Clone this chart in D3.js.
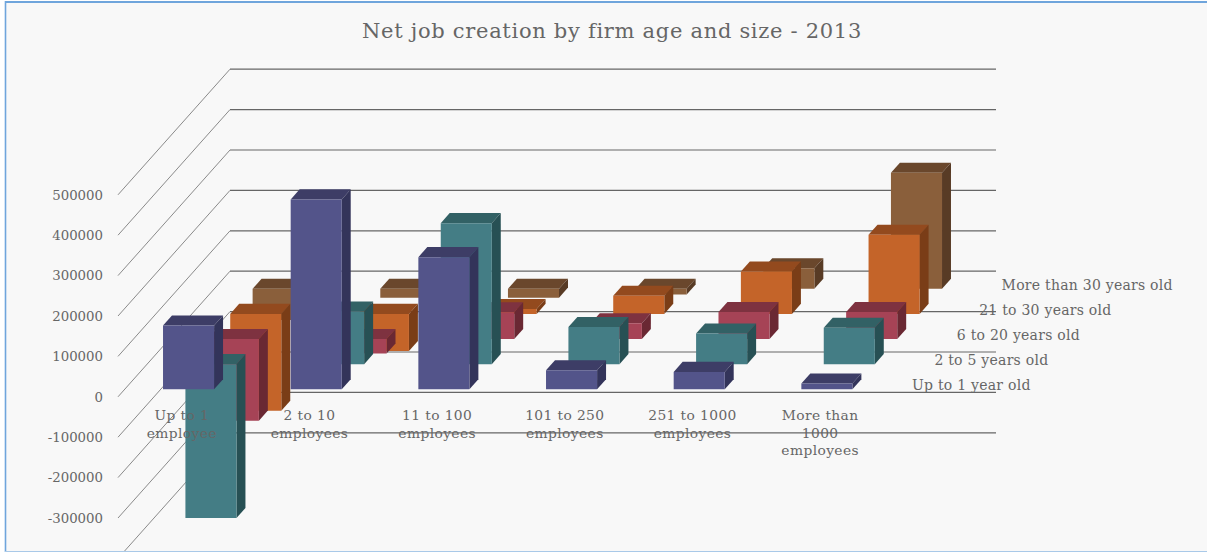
<!DOCTYPE html>
<html>
<head>
<meta charset="utf-8">
<script src="https://cdn.jsdelivr.net/npm/d3@7/dist/d3.min.js"></script>
<style>
html,body{margin:0;padding:0;background:#fff;overflow:hidden}
svg{display:block}
text{font-family:"DejaVu Serif",serif;fill:#666}
</style>
</head>
<body>
<svg id="c" width="1207" height="552"></svg>
<script>
const title = "Net job creation by firm age and size - 2013";
const categories = [
  ["Up to 1","employee"],
  ["2 to 10","employees"],
  ["11 to 100","employees"],
  ["101 to 250","employees"],
  ["251 to 1000","employees"],
  ["More than","1000","employees"]
];
const seriesNames = ["Up to 1 year old","2 to 5 years old","6 to 20 years old","21 to 30 years old","More than 30 years old"];
const upTo1 = [158000, 470000, 327000, 47000, 43000, 14000];
const from2to5 = [-381000, 130000, 349000, 92000, 76000, 90000];
const from6to20 = [-202000, -36000, 66000, 39000, 67000, 67000];
const from21to30 = [-240000, -92000, 12000, 45000, 105000, 196000];
const over30 = [-77000, -22000, -22000, -14000, 51000, 287000];
const seriesValues = [upTo1, from2to5, from6to20, from21to30, over30];
const valueTicks = [-300000,-200000,-100000,0,100000,200000,300000,400000,500000];
const gridTicks = [-400000].concat(valueTicks);
const palette = [
  {front:"#53548a",top:"#3d3d66",side:"#33345a"},
  {front:"#447d85",top:"#326165",side:"#275054"},
  {front:"#a64356",top:"#7e3240",side:"#6a2833"},
  {front:"#c46429",top:"#934a1e",side:"#7a3d17"},
  {front:"#8a5f3b",top:"#6a472c",side:"#583b25"}
];

const svg = d3.select("#c");
svg.append("rect").attr("x",6).attr("y",2).attr("width",1201).attr("height",549).attr("fill","#f8f8f8");
svg.append("line").attr("x1",5).attr("y1",2).attr("x2",1207).attr("y2",2).attr("stroke","#6fa5dc").attr("stroke-width",2);
svg.append("line").attr("x1",5.5).attr("y1",1).attr("x2",5.5).attr("y2",552).attr("stroke","#6fa5dc").attr("stroke-width",1.6);
svg.append("line").attr("x1",5).attr("y1",551.5).attr("x2",1207).attr("y2",551.5).attr("stroke","#a9c9e8").attr("stroke-width",1);

// scales: x along categories, depth along series, y for values
const x = d3.scaleLinear().domain([0,categories.length]).range([118,884]);
const y = d3.scaleLinear().domain([0,500000]).range([396.8,194.8]);
const depthX = d3.scaleLinear().domain([0,seriesNames.length]).range([0,112]);
const depthY = d3.scaleLinear().domain([0,seriesNames.length]).range([0,-125.6]);
const P = (c,d,v) => [x(c)+depthX(d), y(v)+depthY(d)];
const poly = pts => pts.map(p=>p.join(",")).join(" ");

const clip = svg.append("defs").append("clipPath").attr("id","plot");
clip.append("rect").attr("x",6).attr("y",2).attr("width",1201).attr("height",549);
const root = svg.append("g").attr("clip-path","url(#plot)");

// gridlines
const grid = root.append("g");
grid.selectAll("line.diag").data(gridTicks).join("line").attr("class","diag")
  .attr("x1",x(0)).attr("y1",d=>y(d))
  .attr("x2",x(0)+depthX(5)).attr("y2",d=>y(d)+depthY(5))
  .attr("stroke","#8a8a8a").attr("stroke-width",1);
grid.selectAll("line.back").data(gridTicks).join("line").attr("class","back")
  .attr("x1",x(0)+depthX(5)).attr("y1",d=>y(d)+depthY(5))
  .attr("x2",x(6)+depthX(5)).attr("y2",d=>y(d)+depthY(5))
  .attr("stroke","#666").attr("stroke-width",1.2);

// bars, painted from the back row forward
const catGap = 0.3, depthGap = 0.3;
const bars = root.append("g");
d3.range(seriesNames.length-1,-1,-1).forEach(s=>{
  seriesValues[s].forEach((v,c)=>{
    const x0=c+catGap, x1=c+1-catGap, d0=s+depthGap, d1=s+1-depthGap;
    const hi=Math.max(v,0), lo=Math.min(v,0);
    const g=bars.append("g");
    g.append("polygon").attr("points",poly([P(x0,d0,hi),P(x1,d0,hi),P(x1,d1,hi),P(x0,d1,hi)])).attr("fill",palette[s].top);
    g.append("polygon").attr("points",poly([P(x1,d0,hi),P(x1,d1,hi),P(x1,d1,lo),P(x1,d0,lo)])).attr("fill",palette[s].side);
    g.append("polygon").attr("points",poly([P(x0,d0,hi),P(x1,d0,hi),P(x1,d0,lo),P(x0,d0,lo)])).attr("fill",palette[s].front);
  });
});

// value axis
const axis = d3.axisLeft(y).tickValues(valueTicks).tickSize(0).tickPadding(15).tickFormat(d=>String(d));
const ax = svg.append("g").attr("transform",`translate(${x(0)},0)`).call(axis);
ax.select(".domain").remove();
ax.selectAll("text").attr("font-size",13.3).attr("font-family","DejaVu Serif").attr("fill","#666");

// category labels
const cats = svg.append("g");
categories.forEach((lines,c)=>{
  lines.forEach((t,i)=>{
    cats.append("text").attr("x",x(c+0.5)).attr("y",420+i*17.5)
      .attr("text-anchor","middle").attr("font-size",13.8).style("letter-spacing","0.4px").text(t);
  });
});

// depth labels
const dep = svg.append("g");
seriesNames.forEach((t,s)=>{
  dep.append("text").attr("x",912+depthX(s)).attr("y",390+depthY(s))
    .attr("font-size",14).style("letter-spacing","0.25px").text(t);
});

svg.append("text").attr("x",612).attr("y",38).attr("text-anchor","middle")
  .attr("font-size",21).style("letter-spacing","0.7px").text(title);
</script>
</body>
</html>
